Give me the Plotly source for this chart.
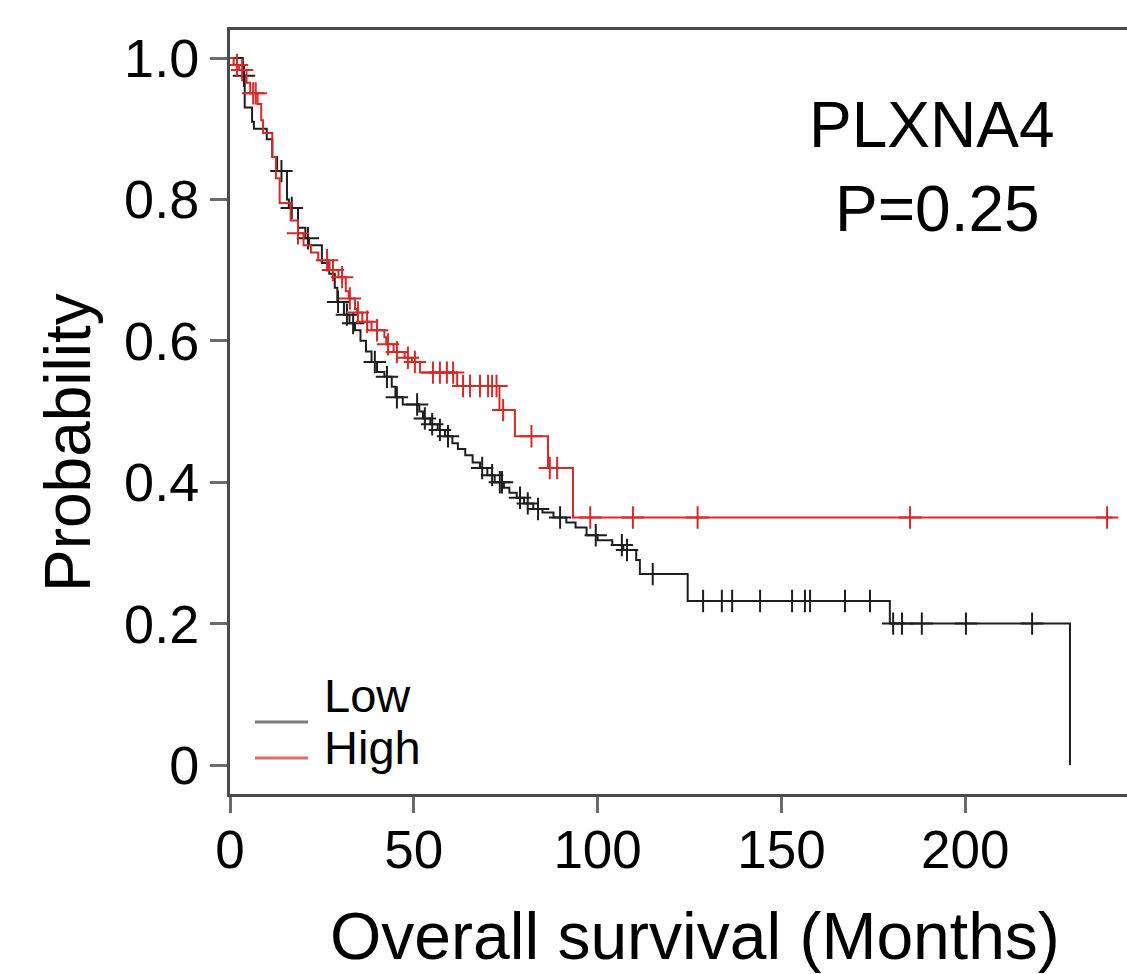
import bisect
import plotly.graph_objects as go

# Kaplan-Meier step data (months, survival probability after each drop)
low_time = [0, 3.5, 4.0, 6.0, 6.5, 10.0, 11.5, 12.8, 15.5, 16.0, 18.5, 20.5, 21.5, 25.0, 27.0,
            28.5, 29.2, 31.0, 32.5, 34.0, 35.5, 37.0, 38.5, 40.0, 42.0, 44.0, 45.0, 47.0, 51.5,
            52.5, 54.5, 56.5, 58.5, 60.5, 62.0, 64.0, 66.0, 68.0, 70.0, 72.0, 74.5, 76.0, 78.0,
            80.0, 82.5, 85.0, 88.0, 91.5, 94.0, 97.0, 100.0, 104.0, 107.0, 110.5, 111.5, 124.5,
            179.5, 228.5]
low_surv = [1.0, 0.975, 0.93, 0.91, 0.90, 0.885, 0.86, 0.84, 0.80, 0.788, 0.76, 0.745, 0.735, 0.71,
            0.695, 0.675, 0.655, 0.637, 0.625, 0.615, 0.60, 0.585, 0.57, 0.556, 0.549, 0.535, 0.52,
            0.51, 0.50, 0.49, 0.482, 0.474, 0.465, 0.455, 0.447, 0.438, 0.428, 0.42, 0.41, 0.40,
            0.392, 0.385, 0.378, 0.37, 0.362, 0.357, 0.35, 0.343, 0.336, 0.325, 0.318, 0.311,
            0.304, 0.29, 0.27, 0.232, 0.20, 0.0]
low_censor = [3.8, 14.0, 16.8, 21.2, 29.4, 31.8, 33.5, 39.4, 42.7, 45.4, 50.9, 53.0, 55.0, 57.1,
              59.3, 68.6, 71.3, 73.4, 74.0, 78.9, 81.0, 83.8, 89.8, 99.5, 106.6, 108.0, 115.0,
              128.7, 133.8, 136.6, 144.2, 152.9, 156.4, 157.8, 167.3, 174.1, 180.4, 182.8, 188.2,
              200.2, 218.2]

high_time = [0, 1.0, 2.5, 4.5, 5.5, 7.5, 8.5, 9.0, 11.5, 12.5, 13.5, 16.5, 18.5, 20.0, 22.0, 24.0,
             27.0, 29.5, 31.5, 32.3, 34.0, 34.6, 36.0, 38.5, 42.0, 42.5, 44.5, 47.5, 49.5, 51.7,
             61.8, 73.3, 77.5, 86.5, 93.3, 240.0]
high_surv = [1.0, 0.99, 0.983, 0.965, 0.95, 0.935, 0.912, 0.894, 0.86, 0.83, 0.795, 0.77, 0.752,
             0.735, 0.725, 0.714, 0.70, 0.69, 0.67, 0.66, 0.645, 0.64, 0.627, 0.615, 0.605, 0.595,
             0.584, 0.576, 0.57, 0.555, 0.536, 0.502, 0.465, 0.42, 0.35, 0.35]
high_censor = [1.9, 3.3, 6.3, 7.0, 18.5, 26.4, 28.0, 30.5, 32.6, 34.8, 37.3, 40.0, 43.0, 45.4, 48.4,
               50.3, 55.2, 57.1, 59.0, 60.7, 63.4, 65.3, 68.0, 70.2, 71.3, 72.5, 74.3, 82.0, 87.0,
               89.0, 98.0, 109.6, 127.2, 185.0, 238.6]

x_ticks = [0, 50, 100, 150, 200]
y_ticks = [0, 0.2, 0.4, 0.6, 0.8, 1.0]
y_tick_text = ["0", "0.2", "0.4", "0.6", "0.8", "1.0"]

gene_label = "PLXNA4"
p_label = "P=0.25"
group_names = ["Low", "High"]

FONT = "Liberation Sans, Arial, sans-serif"
LOW_COLOR = "#1e1e1e"
HIGH_COLOR = "#d42a2a"

W, H = 1127, 974
L, R, T, B = 230, 0, 30, 180


def step_value(times, surv, t):
    i = bisect.bisect_right(times, t) - 1
    return surv[max(i, 0)]


def px(xp, yp):
    """Pixel position -> paper coordinates."""
    return (xp - L) / (W - L - R), (H - B - yp) / (H - T - B)


fig = go.Figure()

for times, surv, cens, color in [
    (low_time, low_surv, low_censor, LOW_COLOR),
    (high_time, high_surv, high_censor, HIGH_COLOR),
]:
    fig.add_trace(go.Scatter(
        x=times, y=surv, mode="lines", line=dict(color=color, width=2, shape="hv"),
        showlegend=False, hoverinfo="skip",
    ))
    fig.add_trace(go.Scatter(
        x=cens, y=[step_value(times, surv, t) for t in cens], mode="markers",
        marker=dict(symbol="cross-thin", size=16, line=dict(color=color, width=2)),
        showlegend=False, hoverinfo="skip",
    ))

# Legend drawn as short line samples next to the group names
legend_rows = [(group_names[0], "#7a7a7a", 722, 695), (group_names[1], "#dd6a6a", 758, 747)]
for name, color, line_y, text_y in legend_rows:
    x0, y0 = px(255, line_y)
    x1, _ = px(308, line_y)
    fig.add_shape(type="line", xref="paper", yref="paper", x0=x0, x1=x1, y0=y0, y1=y0,
                  line=dict(color=color, width=3))
    tx, ty = px(323, text_y)
    fig.add_annotation(xref="paper", yref="paper", x=tx, y=ty, text=name, showarrow=False,
                       xanchor="left", yanchor="middle", borderpad=0,
                       font=dict(family=FONT, size=47, color="black"))

# Gene name and p-value
for text, cx, cy in [(gene_label, 931, 125), (p_label, 937, 209)]:
    ax, ay = px(cx, cy)
    fig.add_annotation(xref="paper", yref="paper", x=ax, y=ay, text=text, showarrow=False,
                       xanchor="center", yanchor="middle", font=dict(family=FONT, size=64, color="black"))

# Axis titles
ax, ay = px(695, 936)
fig.add_annotation(xref="paper", yref="paper", x=ax, y=ay, text="Overall survival (Months)",
                   showarrow=False, xanchor="center", yanchor="middle",
                   font=dict(family=FONT, size=66, color="black"))
ax, ay = px(68, 443)
fig.add_annotation(xref="paper", yref="paper", x=ax, y=ay, text="Probability", textangle=-90,
                   showarrow=False, xanchor="center", yanchor="middle",
                   font=dict(family=FONT, size=64, color="black"))

px_per_month = 3.676
px_per_unit = 707.0
zero_y = 765.0

fig.update_layout(
    width=W, height=H, autosize=False,
    margin=dict(l=L, r=R, t=T, b=B, pad=0),
    paper_bgcolor="white", plot_bgcolor="white",
    showlegend=False,
    xaxis=dict(
        range=[0, (W - L - R) / px_per_month],
        tickvals=x_ticks, ticktext=[str(v) for v in x_ticks],
        showgrid=False, zeroline=False, showline=True, mirror=True,
        linecolor="#4a4a4a", linewidth=3,
        ticks="outside", ticklen=16, tickwidth=3, tickcolor="#6a6a6a",
        ticklabelstandoff=-9,
        tickfont=dict(family=FONT, size=53, color="black"),
    ),
    yaxis=dict(
        range=[(zero_y - (H - B)) / px_per_unit, (zero_y - T) / px_per_unit],
        tickvals=y_ticks, ticktext=y_tick_text,
        showgrid=False, zeroline=False, showline=True,
        linecolor="#4a4a4a", linewidth=3,
        ticks="outside", ticklen=17, tickwidth=3, tickcolor="#6a6a6a",
        tickfont=dict(family=FONT, size=54, color="black"),
    ),
)

fig.write_html("out.html")
